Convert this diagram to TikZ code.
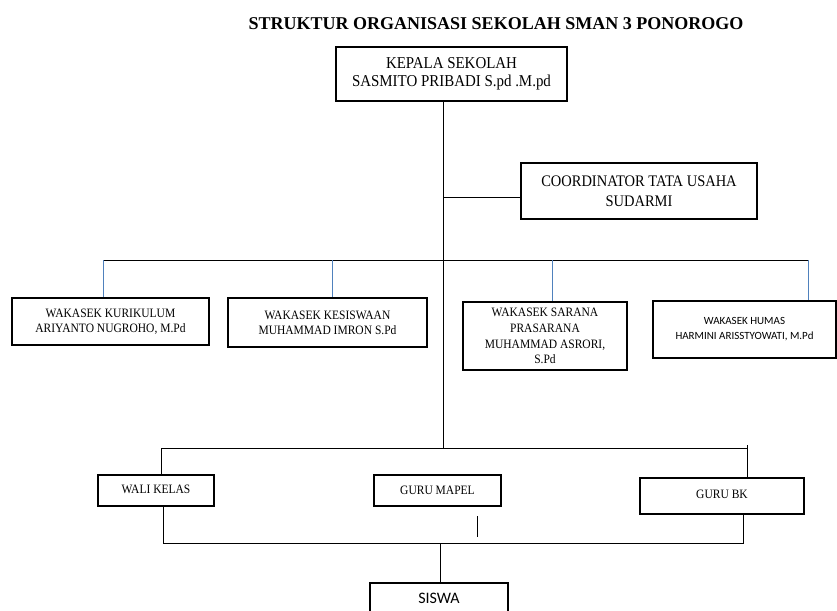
\documentclass[tikz,border=0pt]{standalone}
\usepackage{fontspec}
\setmainfont{Liberation Serif}
\newfontfamily\cond{Liberation Serif}[FakeStretch=0.9]
\newfontfamily\carl{Carlito}
\definecolor{wordblue}{RGB}{79,129,189}
\begin{document}
\begin{tikzpicture}[x=1pt,y=-1pt,
  box/.style={draw=black,line width=1.1pt,inner sep=0pt,align=center,anchor=center},
  ln/.style={draw=black,line width=1pt},
  bl/.style={draw=wordblue,line width=1pt}]
\clip (0,0) rectangle (837,610);
\fill[white] (0,0) rectangle (837,610);
% title
\node[anchor=base,font=\bfseries\fontsize{18}{20}\selectfont] (title) at (496,30) {STRUKTUR ORGANISASI SEKOLAH SMAN 3 PONOROGO};
% boxes
\node[box,minimum width=231pt,minimum height=54pt,font=\cond\fontsize{16.6}{18}\selectfont] (kepala) at (451.5,74) {KEPALA SEKOLAH\\SASMITO PRIBADI S.pd .M.pd};
\node[box,minimum width=236pt,minimum height=56pt,font=\cond\fontsize{16.1}{20}\selectfont] (tu) at (639,191) {COORDINATOR TATA USAHA\\SUDARMI};
\node[box,minimum width=197pt,minimum height=47pt,font=\cond\fontsize{12.8}{15}\selectfont] (kur) at (110.5,321.5) {WAKASEK KURIKULUM\\ARIYANTO NUGROHO, M.Pd};
\node[box,minimum width=199pt,minimum height=49pt,font=\cond\fontsize{12.8}{15}\selectfont] (kes) at (327.5,322.5) {WAKASEK KESISWAAN\\MUHAMMAD IMRON S.Pd};
\node[box,minimum width=164pt,minimum height=68pt,font=\cond\fontsize{12.8}{15.7}\selectfont] (sar) at (545,336) {WAKASEK SARANA\\PRASARANA\\MUHAMMAD ASRORI,\\S.Pd};
\node[box,minimum width=183pt,minimum height=57pt,font=\carl\fontsize{11}{15}\selectfont] (hum) at (744.5,329.5) {WAKASEK HUMAS\\HARMINI ARISSTYOWATI, M.Pd};
\node[box,minimum width=116pt,minimum height=31pt,font=\cond\fontsize{12.8}{14}\selectfont] (wali) at (156,490.5) {\raisebox{2pt}{WALI KELAS}};
\node[box,minimum width=127pt,minimum height=31pt,font=\cond\fontsize{12.8}{14}\selectfont] (mapel) at (437.5,490.5) {\raisebox{1pt}{GURU MAPEL}};
\node[box,minimum width=164pt,minimum height=36pt,font=\cond\fontsize{12.8}{14}\selectfont] (bk) at (722,496) {\raisebox{3pt}{GURU BK}};
\node[box,minimum width=138pt,minimum height=32pt,font=\carl\fontsize{16}{18}\selectfont,text depth=0pt] (siswa) at (439,599) {\raisebox{1pt}{SISWA}};
% coordinates
\coordinate (t1) at (443,197);
\coordinate (t2) at (443,260);
\coordinate (t3) at (443,448);
\coordinate (hl) at (103,260);
\coordinate (hr) at (808,260);
\coordinate (hk) at (332,260);
\coordinate (hs) at (552,260);
\coordinate (ml) at (161,448);
\coordinate (mr) at (747,448);
\coordinate (mrt) at (747,445);
\coordinate (bl) at (163,543);
\coordinate (br) at (743,543);
\coordinate (sj) at (440,543);
\coordinate (stubt) at (477,516);
\coordinate (stubb) at (477,537);
% trunk
\draw[ln] (kepala.south -| t1) -- (t3);
\draw[ln] (t1) -- (t1 -| tu.west);
\draw[ln] (hl) -- (hr);
\draw[bl] (hl) -- (hl |- kur.north);
\draw[bl] (hk) -- (hk |- kes.north);
\draw[bl] (hs) -- (hs |- sar.north);
\draw[bl] (hr) -- (hr |- hum.north);
\draw[ln] (ml) -- (mr);
\draw[ln] (ml) -- (ml |- wali.north);
\draw[ln] (mrt) -- (mrt |- bk.north);
\draw[ln] (wali.south -| bl) -- (bl) -- (br) -- (bk.south -| br);
\draw[ln] (stubt) -- (stubb);
\draw[ln] (sj) -- (sj |- siswa.north);
\end{tikzpicture}
\end{document}
